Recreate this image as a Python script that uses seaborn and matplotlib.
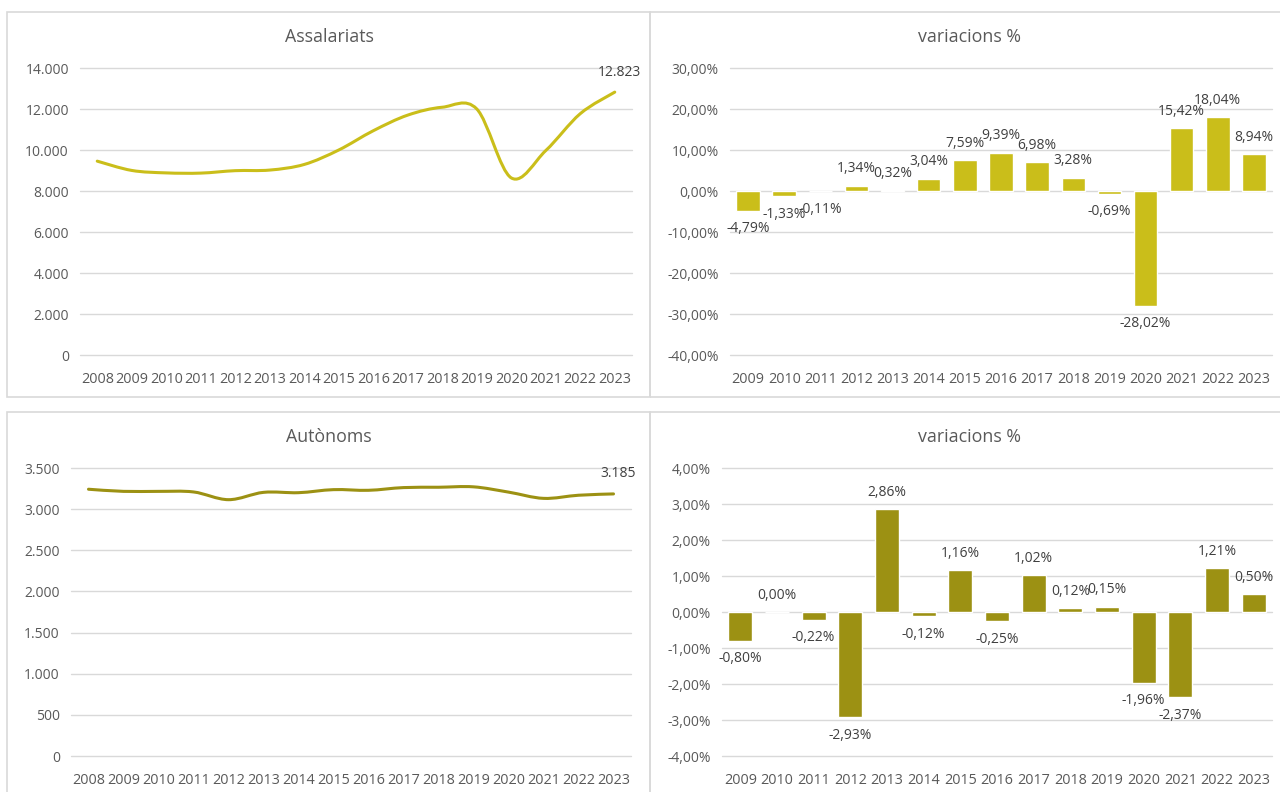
import numpy as np
import matplotlib.pyplot as plt
import seaborn as sns
from matplotlib.path import Path
from matplotlib.patches import PathPatch, Rectangle
from matplotlib.ticker import FuncFormatter

# values (persons, and year-on-year change in %)
years = [str(y) for y in range(2008, 2024)]
assalariats = [9456, 9003, 8883, 8873, 8992, 9021, 9295, 10000,
               10939, 11702, 12086, 12003, 8640, 9972, 11771, 12823]
autonoms = [3242, 3216, 3216, 3209, 3115, 3204, 3200, 3237,
            3229, 3262, 3266, 3271, 3207, 3131, 3169, 3185]
var_years = years[1:]
var_assalariats = [-4.79, -1.33, -0.11, 1.34, 0.32, 3.04, 7.59, 9.39,
                   6.98, 3.28, -0.69, -28.02, 15.42, 18.04, 8.94]
var_autonoms = [-0.80, 0.00, -0.22, -2.93, 2.86, -0.12, 1.16, -0.25,
                1.02, 0.12, 0.15, -1.96, -2.37, 1.21, 0.50]

C_TOP = '#CABE1A'
C_BOT = '#9C9113'
GRID = '#D9D9D9'
TXT = '#595959'
LBL = '#404040'

sns.set_style('white')
plt.rcParams['font.family'] = ['Open Sans', 'DejaVu Sans']

W, H = 1280, 792
fig = plt.figure(figsize=(12.8, 7.92), dpi=100)


def px_axes(x0, y0, x1, y1):
    # pixel box (top-left origin) -> figure axes
    return fig.add_axes([x0 / W, 1 - y1 / H, (x1 - x0) / W, (y1 - y0) / H])


def box(x0, y0, x1, y1):
    fig.add_artist(Rectangle((x0 / W, 1 - y1 / H), (x1 - x0) / W, (y1 - y0) / H,
                             transform=fig.transFigure, fill=False,
                             edgecolor=GRID, lw=1.2))


def thousands(v, pos=None):
    return f'{v:,.0f}'.replace(',', '.')


def pct(v, pos=None):
    return f'{v:.2f}'.replace('.', ',') + '%'


def smooth_path(xs, ys):
    # excel-like smoothed line: bezier segments through every point
    pts = np.column_stack([xs, ys]).astype(float)
    n = len(pts)
    verts, codes = [pts[0]], [Path.MOVETO]
    for i in range(n - 1):
        p0 = pts[max(i - 1, 0)]
        p1, p2 = pts[i], pts[i + 1]
        p3 = pts[min(i + 2, n - 1)]
        verts += [p1 + (p2 - p0) / 6, p2 - (p3 - p1) / 6, p2]
        codes += [Path.CURVE4] * 3
    return Path(verts, codes)


def style(ax):
    for s in ax.spines.values():
        s.set_visible(False)
    ax.yaxis.grid(True, color=GRID, lw=1)
    ax.xaxis.grid(False)
    ax.set_axisbelow(True)
    ax.tick_params(length=0, labelsize=10, colors=TXT, pad=8)
    ax.tick_params(axis='x', labelsize=10.4, pad=12)
    ax.set_xlabel('')
    ax.set_ylabel('')
    for gl in ax.get_ygridlines():
        gl.set_clip_on(False)


def title(text, tx, ty):
    fig.text(tx / W, 1 - ty / H, text, ha='center', va='center',
             fontsize=12.8, color=TXT)


def line_panel(ax, values, color, ylim, step, name, tx, ty):
    xs = np.arange(len(years))
    ax.add_patch(PathPatch(smooth_path(xs, values), fill=False, edgecolor=color,
                           lw=2.2, capstyle='round', joinstyle='round'))
    ax.set_xlim(-0.5, len(years) - 0.5)
    ax.set_ylim(*ylim)
    ax.set_yticks(np.arange(ylim[0], ylim[1] + 1, step))
    ax.yaxis.set_major_formatter(FuncFormatter(thousands))
    ax.set_xticks(xs)
    ax.set_xticklabels(years)
    style(ax)
    ax.annotate(thousands(values[-1]), (xs[-1], values[-1]), xytext=(3, 9),
                textcoords='offset points', ha='center', va='bottom',
                fontsize=10, color=LBL)
    title(name, tx, ty)


def bar_panel(ax, values, color, ylim, step, name, tx, ty):
    sns.barplot(x=var_years, y=values, color=color, saturation=1, width=0.65,
                ax=ax)
    ax.set_xlim(-0.5, len(var_years) - 0.5)
    ax.set_ylim(*ylim)
    ax.set_yticks(np.arange(ylim[0], ylim[1] + step / 2, step))
    ax.yaxis.set_major_formatter(FuncFormatter(pct))
    style(ax)
    for i, v in enumerate(values):
        off = 12 if v >= 0 else -13
        ax.annotate(pct(v), (i, v), xytext=(0, off), textcoords='offset points',
                    ha='center', va='center', fontsize=10, color=LBL)
    title(name, tx, ty)


# chart frames
box(7, 12, 650, 397)
box(650, 12, 1290, 397)
box(7, 412, 650, 800)
box(650, 412, 1290, 800)

ax1 = px_axes(80, 68, 632, 355)
line_panel(ax1, assalariats, C_TOP, (0, 14000), 2000, 'Assalariats', 329, 37)

ax2 = px_axes(730, 68, 1272, 355)
bar_panel(ax2, var_assalariats, C_TOP, (-40, 30), 10, 'variacions %', 970, 37)

ax3 = px_axes(71, 468, 631, 756)
line_panel(ax3, autonoms, C_BOT, (0, 3500), 500, 'Autònoms', 329, 437)

ax4 = px_axes(722, 468, 1272, 756)
bar_panel(ax4, var_autonoms, C_BOT, (-4, 4), 1, 'variacions %', 970, 437)

fig.savefig('out.png', dpi=100, facecolor='white')
